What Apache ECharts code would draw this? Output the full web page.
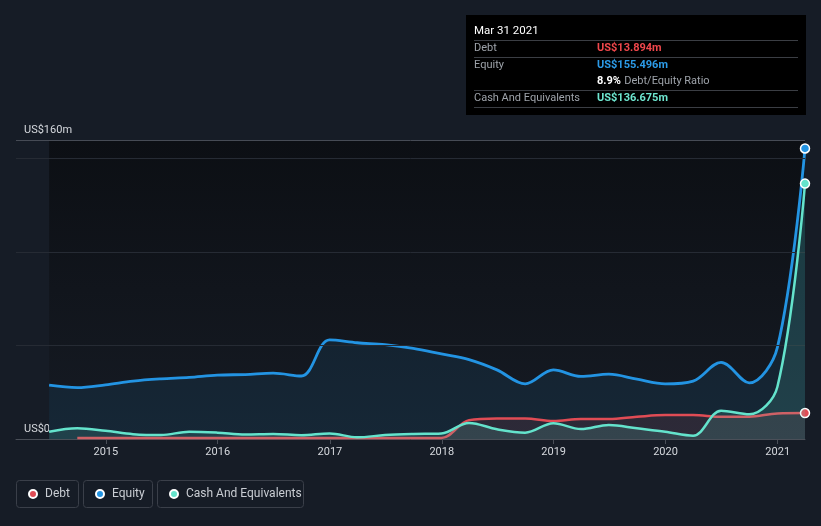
<!DOCTYPE html>
<html>
<head>
<meta charset="utf-8">
<script src="https://cdn.jsdelivr.net/npm/echarts@6/dist/echarts.min.js"></script>
<style>
html,body{margin:0;padding:0;background:#161c26;}
#chart{width:821px;height:526px;}
</style>
</head>
<body>
<div id="chart"></div>
<script>
// ---- data (US$ millions, quarter ends) ----
var dates = ['2014-06-30','2014-09-30','2014-12-31','2015-03-31','2015-06-30','2015-09-30','2015-12-31',
  '2016-03-31','2016-06-30','2016-09-30','2016-12-31','2017-03-31','2017-06-30','2017-09-30','2017-12-31',
  '2018-03-31','2018-06-30','2018-09-30','2018-12-31','2019-03-31','2019-06-30','2019-09-30','2019-12-31',
  '2020-03-31','2020-06-30','2020-09-30','2020-12-31','2021-03-31'];
var debt = [null,0.5,0.5,0.5,0.5,0.5,0.5,0.5,0.5,0.5,0.5,0.5,0.5,0.5,0.5,
  10.1,11.0,11.0,9.6,10.7,10.7,11.9,12.8,12.8,11.9,11.9,13.7,13.894];
var equity = [28.8,27.5,29.0,31.0,32.2,33.0,34.2,34.5,35.2,33.7,53.0,51.5,50.5,48.5,45.5,
  42.5,37.0,29.5,37.0,33.5,34.7,32.0,29.5,31.0,41.0,30.0,49.0,155.496];
var cash = [3.9,5.7,4.4,2.6,2.1,3.9,3.4,2.4,2.7,2.0,3.0,0.9,2.1,2.7,3.0,
  8.6,5.2,3.4,8.4,5.3,7.5,5.7,3.9,1.8,15.1,13.2,28.0,136.675];
var yearTicks = [2015,2016,2017,2018,2019,2020,2021];
var yLabelValues = [0,160];
var gridValues = [50,100,150];
var yMax = 160;
var seriesNames = ['Debt','Equity','Cash And Equivalents'];
var tooltipTitle = 'Mar 31 2021';

var colors = {Debt:'#e04c55', Equity:'#2394e3', Cash:'#64e3cc'};
var FONT = 'Roboto';

function ts(s){var p=s.split('-');return Date.UTC(+p[0],+p[1]-1,+p[2]);}
function pairs(vals){return dates.map(function(d,i){
  var item={value:[ts(d),vals[i]]};
  if(i===dates.length-1){item.symbol='circle';item.symbolSize=9;}
  return item;});}
function fmt(v){return 'US$'+v.toFixed(3)+'m';}

var last = dates.length-1;
var ratio = (debt[last]/equity[last]*100).toFixed(1)+'%';
var yearMs = yearTicks.map(function(y){return Date.UTC(y,0,1);});

var chart = echarts.init(document.getElementById('chart'));

function lineSeries(name,vals,color,areaColor,z,w){
  return {
    name:name,type:'line',data:pairs(vals),smooth:0.35,z:z,
    showSymbol:true,symbol:'none',connectNulls:false,
    lineStyle:{width:w,color:color},
    itemStyle:{color:color,borderColor:'#ffffff',borderWidth:1.5},
    areaStyle:{color:areaColor,origin:'start'},
    emphasis:{disabled:true},
    clip:false
  };
}

var tipX=466, tipY=15, lineX1=474, lineX2=798, valX=597;
function sep(y){return {type:'line',shape:{x1:lineX1,y1:y,x2:lineX2,y2:y},style:{stroke:'#3b3e44',lineWidth:1}};}
function txt(x,y,t,c,w){return {type:'text',x:x,y:y,style:{text:t,fill:c,font:(w||'normal')+' 11px '+FONT,textVerticalAlign:'middle'}};}

function legendBox(x,w){return {type:'rect',shape:{x:x,y:480.5,width:w,height:27,r:3},style:{fill:'none',stroke:'#3a3f49',lineWidth:1},silent:true};}
function legendAt(left,name){return {
  data:[name],left:left,top:488,padding:0,icon:'circle',itemWidth:8,itemHeight:8,
  selectedMode:false,
  textStyle:{color:'#c9cdd3',fontSize:12,fontFamily:FONT,padding:[0,0,0,3]}
};}

var gridLines = gridValues.map(function(v){return {yAxis:v,lineStyle:{color:'#262b34'}};});
gridLines.push({yAxis:yMax,lineStyle:{color:'#464b55'}});

chart.setOption({
  backgroundColor:'#161c26',
  animation:false,
  textStyle:{fontFamily:FONT},
  grid:{left:16,right:16,top:140,bottom:87,containLabel:false},
  xAxis:{
    type:'value',min:ts('2014-03-14'),max:ts(dates[last]),
    axisLine:{show:true,lineStyle:{color:'#4a4f58',width:1}},
    axisTick:{show:true,length:5,lineStyle:{color:'#4a4f58'},customValues:yearMs},
    axisLabel:{color:'#d6d9de',fontSize:11,fontFamily:FONT,margin:8,customValues:yearMs,
      formatter:function(v){return String(new Date(v).getUTCFullYear());}},
    splitLine:{show:false}
  },
  yAxis:{
    type:'value',min:0,max:yMax,interval:50,
    axisLine:{show:false},
    axisTick:{show:false},
    splitLine:{show:false},
    axisLabel:{inside:true,customValues:yLabelValues,color:'#d6d9de',fontSize:11,fontFamily:FONT,
      margin:8,verticalAlign:'bottom',padding:[0,0,4,0],
      formatter:function(v){return 'US$'+v+(v===0?'':'m');}}
  },
  legend:[legendAt(28,seriesNames[0]),legendAt(95,seriesNames[1]),legendAt(169,seriesNames[2])],
  series:[
    {name:'bg',type:'line',data:[],z:0,silent:true,
      markArea:{silent:true,itemStyle:{color:new echarts.graphic.LinearGradient(0,0,0,1,[
        {offset:0,color:'#0c0f14'},{offset:1,color:'#161b24'}])},
        data:[[{xAxis:ts(dates[0]),yAxis:yMax},{xAxis:ts(dates[last]),yAxis:0}]]}},
    {name:'gridlines',type:'line',data:[],z:1,silent:true,
      markLine:{silent:true,symbol:'none',label:{show:false},animation:false,
        lineStyle:{type:'solid',width:1},data:gridLines}},
    lineSeries(seriesNames[1],equity,colors.Equity,'rgba(35,148,227,0.14)',3,2.8),
    lineSeries(seriesNames[0],debt,colors.Debt,'rgba(229,72,79,0.16)',4,2.5),
    lineSeries(seriesNames[2],cash,colors.Cash,'rgba(100,227,204,0.2)',5,2.5)
  ],
  graphic:[
    legendBox(16.5,62),legendBox(83.5,69),legendBox(157.5,146),
    {type:'group',silent:true,children:[
      {type:'rect',shape:{x:tipX,y:tipY,width:340,height:100},style:{fill:'#000000'}},
      {type:'text',x:lineX1,y:31,style:{text:tooltipTitle,fill:'#ffffff',font:'normal 11.5px '+FONT,textVerticalAlign:'middle'}},
      sep(40.5),sep(57.5),sep(90.5),sep(107.5),
      txt(lineX1,48.5,seriesNames[0],'#9ea3aa'),
      txt(valX,48.5,fmt(debt[last]),'#f0474c','bold'),
      txt(lineX1,65.5,seriesNames[1],'#9ea3aa'),
      txt(valX,65.5,fmt(equity[last]),'#2c9be8','bold'),
      {type:'text',x:valX,y:81.5,style:{text:'{a|'+ratio+'} {b|Debt/Equity Ratio}',textVerticalAlign:'middle',
        rich:{a:{fill:'#ffffff',font:'bold 11px '+FONT},b:{fill:'#9ea3aa',font:'normal 11px '+FONT}}}},
      txt(lineX1,98.5,seriesNames[2],'#9ea3aa'),
      txt(valX,98.5,fmt(cash[last]),'#6ee6d0','bold')
    ]}
  ]
});
</script>
</body>
</html>
